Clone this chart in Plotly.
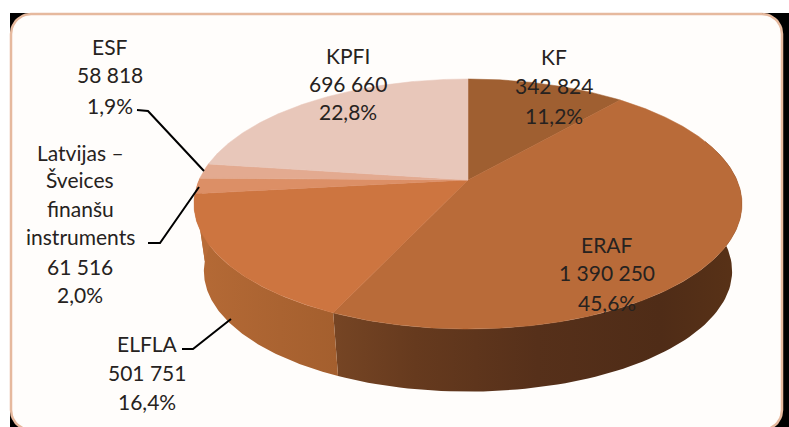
import numpy as np
import plotly.graph_objects as go

# --- data ---
categories = ["KF", "ERAF", "ELFLA", "Latvijas –<br>Šveices<br>finanšu<br>instruments", "ESF", "KPFI"]
values = [342824, 1390250, 501751, 61516, 58818, 696660]
percent_labels = ["11,2%", "45,6%", "16,4%", "2,0%", "1,9%", "22,8%"]
value_labels = ["342 824", "1 390 250", "501 751", "61 516", "58 818", "696 660"]
slice_colors = ["#9f5f31", "#b96b39", "#cd7540", "#dc8f66", "#e3aa90", "#e8c7ba"]
wall_gradients = {
    1: [[0.0, "#764524"], [0.2, "#663a1e"], [0.5, "#56301a"], [0.8, "#4f2c17"], [1.0, "#593217"]],
    2: [[0.0, "#b56a36"], [0.6, "#aa6331"], [1.0, "#a45f2e"]],
    3: [[0.0, "#b86c38"], [1.0, "#b86c38"]],
}

W, H = 789, 427
CX, CY = 468, 180          # apex of the slices on screen
SX, SY, K = 268.9, 120.4, 0.192   # perspective projection of the pie disc
DEPTH, SCALE = 68, 0.964
PX0, PY0, PX1, PY1, PR = 11, 14, 782, 430, 20   # rounded panel


def project(theta_deg, bottom=False):
    t = np.radians(theta_deg)
    X, Y = np.sin(t), np.cos(t)
    w = 1 + K * Y
    px, py = SX * X / w, SY * Y / w
    if bottom:
        return CX + SCALE * px, CY + DEPTH - SCALE * py
    return CX + px, CY - py


CORNERS = [(PX1 - PR, PY0 + PR, -np.pi / 2), (PX1 - PR, PY1 - PR, 0),
           (PX0 + PR, PY1 - PR, np.pi / 2), (PX0 + PR, PY0 + PR, np.pi)]


def arc(cx, cy, start):
    t = np.linspace(0, np.pi / 2, 12)
    return list(cx + PR * np.cos(start + t)), list(cy + PR * np.sin(start + t))


total = sum(values)
edges = np.concatenate([[0], np.cumsum(values) / total * 360])

fig = go.Figure()

# white margin on the top and on the left; the rest of the page background is black
fig.add_trace(go.Scatter(x=[0, W, W, 10, 10, 0, 0], y=[0, 0, 13, 13, H, H, 0], mode="lines", fill="toself",
                         fillcolor="#ffffff", line=dict(width=0), hoverinfo="skip", showlegend=False))

# panel
xs, ys = [], []
for cx, cy, st in CORNERS:
    ax, ay = arc(cx, cy, st)
    xs += ax
    ys += ay
fig.add_trace(go.Scatter(x=xs + xs[:1], y=ys + ys[:1], mode="lines", fill="toself", fillcolor="#fffdfb",
                         line=dict(color="#e6b99e", width=2.5), hoverinfo="skip", showlegend=False))

# side wall, drawn from the slice angles
for i, grad in wall_gradients.items():
    a0, a1 = max(edges[i], 70), min(edges[i + 1], 290)
    tt = np.linspace(a0, a1, 90)
    tx, ty = project(tt)
    bx, by = project(tt[::-1], bottom=True)
    fig.add_trace(go.Scatter(x=np.r_[tx, bx, tx[0]], y=np.r_[ty, by, ty[0]], mode="lines", fill="toself",
                             fillgradient=dict(type="horizontal", colorscale=grad),
                             line=dict(width=0), hoverinfo="skip", showlegend=False))

# top face
for i in range(len(values)):
    tt = np.linspace(edges[i], edges[i + 1], max(3, int(edges[i + 1] - edges[i]) * 2))
    px, py = project(tt)
    fig.add_trace(go.Scatter(x=np.r_[CX, px, CX], y=np.r_[CY, py, CY], mode="lines", fill="toself",
                             fillcolor=slice_colors[i], line=dict(color=slice_colors[i], width=0.5),
                             hoverinfo="skip", showlegend=False, name=categories[i].replace("<br>", " ")))

# leader lines
leaders = [([137, 148, 204], [110, 111, 171]),
           ([148, 160, 199], [243, 243, 187]),
           ([182, 193, 231], [349, 349, 319])]
for lx, ly in leaders:
    fig.add_trace(go.Scatter(x=lx, y=ly, mode="lines", line=dict(color="#000000", width=2),
                             hoverinfo="skip", showlegend=False))

# labels: one text per line for exact spacing
label_pos = {0: (554, [56, 85, 115]),
             1: (607, [244, 272, 302]),
             2: (147, [343, 372, 401]),
             3: (80, [152, 179, 208, 236, 266, 294]),
             4: (110, [46, 74, 105]),
             5: (348, [55, 83, 111])}
for i, (lxp, lys) in label_pos.items():
    lines = categories[i].split("<br>") + [value_labels[i], percent_labels[i]]
    for line, ly in zip(lines, lys):
        fig.add_annotation(x=lxp, y=ly, text=line, showarrow=False, xanchor="center", yanchor="middle",
                           font=dict(family="Lato", size=21, color="#262220"))

fig.update_layout(
    width=W, height=H, margin=dict(l=0, r=0, t=0, b=0), autosize=False,
    paper_bgcolor="#000000", plot_bgcolor="#000000", showlegend=False,
    xaxis=dict(range=[0, W], visible=False, fixedrange=True),
    yaxis=dict(range=[H, 0], visible=False, fixedrange=True),
)
fig.write_html("out.html", config=dict(displayModeBar=False),
               post_script="document.body.style.margin='0';document.body.style.overflow='hidden';")
